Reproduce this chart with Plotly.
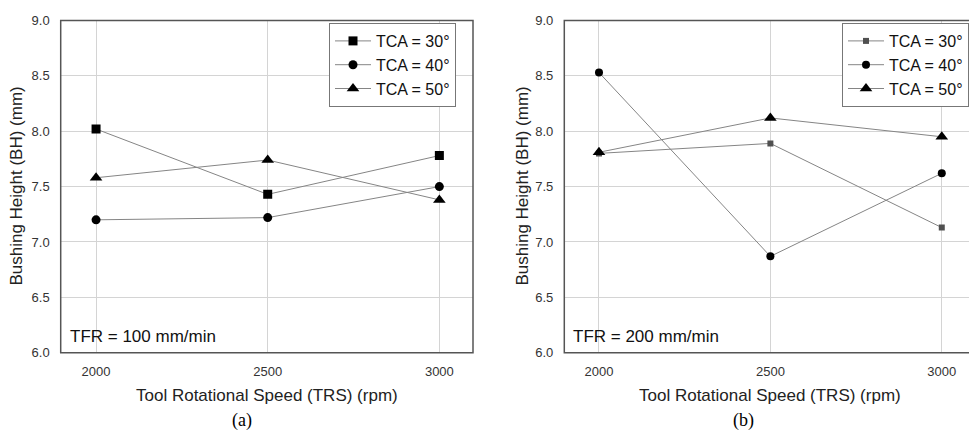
import plotly.graph_objects as go

trs = [2000, 2500, 3000]
labels = ["TCA = 30°", "TCA = 40°", "TCA = 50°"]

# Panel (a): TFR = 100 mm/min
a_tca30 = [8.02, 7.43, 7.78]
a_tca40 = [7.20, 7.22, 7.50]
a_tca50 = [7.58, 7.74, 7.38]

# Panel (b): TFR = 200 mm/min
b_tca30 = [7.80, 7.89, 7.13]
b_tca40 = [8.53, 6.87, 7.62]
b_tca50 = [7.81, 8.12, 7.95]

yticks = [6.0, 6.5, 7.0, 7.5, 8.0, 8.5, 9.0]

W, H = 969, 438
FONT = "Liberation Sans, Arial, sans-serif"
LINE = "#858585"

fig = go.Figure()

def add_series(xa, ya, ys, name, symbol, size, color, legend):
    fig.add_trace(go.Scatter(
        x=trs, y=ys, name=name, mode="lines+markers",
        xaxis=xa, yaxis=ya, legend=legend,
        line=dict(color=LINE, width=1),
        marker=dict(symbol=symbol, size=size, color=color),
    ))

add_series("x", "y", a_tca30, labels[0], "square", 9, "black", "legend")
add_series("x", "y", a_tca40, labels[1], "circle", 9, "black", "legend")
add_series("x", "y", a_tca50, labels[2], "triangle-up", 11, "black", "legend")

add_series("x2", "y2", b_tca30, labels[0], "square", 6, "#505050", "legend2")
add_series("x2", "y2", b_tca40, labels[1], "circle", 8, "black", "legend2")
add_series("x2", "y2", b_tca50, labels[2], "triangle-up", 11, "black", "legend2")

# pixel geometry
ax_l, ax_r = 60.7, 473.0
bx_l, bx_r = 564.3, 969.0
y_top, y_bot = 20.5, 352.7

def px(v):
    return v / W

def py(v):
    return 1 - v / H

common_x = dict(
    tickvals=trs, ticktext=[str(t) for t in trs],
    showgrid=True, gridcolor="#d4d4d4", gridwidth=1.3,
    zeroline=False, showline=False, ticks="", automargin=False,
    tickfont=dict(family=FONT, size=13, color="#333333"),
    ticklabelstandoff=9,
)
common_y = dict(
    range=[6.0, 9.0], tickvals=yticks, tickformat=".1f",
    showgrid=True, gridcolor="#d4d4d4", gridwidth=1.3,
    zeroline=False, showline=False, ticks="", automargin=False,
    tickfont=dict(family=FONT, size=13, color="#333333"),
    ticklabelstandoff=10,
)

legend_common = dict(
    yanchor="top", bgcolor="white", bordercolor="#777777", borderwidth=1,
    font=dict(family=FONT, size=16, color="#111111"),
    tracegroupgap=0, itemwidth=36,
)

fig.update_layout(
    width=W, height=H,
    margin=dict(l=0, r=0, t=0, b=0, autoexpand=False),
    paper_bgcolor="white", plot_bgcolor="white",
    font=dict(family=FONT, color="#222222"),
    xaxis=dict(domain=[px(ax_l), px(ax_r)], range=[1897, 3098], anchor="y", **common_x),
    yaxis=dict(domain=[py(y_bot), py(y_top)], anchor="x", **common_y),
    xaxis2=dict(domain=[px(bx_l), 1.0], range=[1898.8, 3079.4], anchor="y2", **common_x),
    yaxis2=dict(domain=[py(y_bot), py(y_top)], anchor="x2", **common_y),
    legend=dict(x=px(456), xanchor="right", y=py(23), **legend_common),
    legend2=dict(x=px(842), xanchor="left", y=py(23), **legend_common),
)

# plot frames
fig.add_shape(type="rect", xref="x domain", yref="y domain", x0=0, x1=1, y0=0, y1=1,
              line=dict(color="#555555", width=1.5), layer="above")
fig.add_shape(type="rect", xref="x2 domain", yref="y2 domain", x0=0, x1=1.02, y0=0, y1=1,
              line=dict(color="#555555", width=1.5), layer="above")

# annotations
fig.add_annotation(text="TFR = 100 mm/min", xref="x domain", yref="y domain",
                   x=0.018, y=0.05, xanchor="left", yanchor="middle", showarrow=False,
                   font=dict(family=FONT, size=17, color="#111111"))
fig.add_annotation(text="TFR = 200 mm/min", xref="x2 domain", yref="y2 domain",
                   x=0.016, y=0.05, xanchor="left", yanchor="middle", showarrow=False,
                   font=dict(family=FONT, size=17, color="#111111"))

for xc in [(ax_l + ax_r) / 2, (bx_l + 941.7 + 34.3) / 2]:
    fig.add_annotation(text="Tool Rotational Speed (TRS) (rpm)", xref="paper", yref="paper",
                       x=px(xc), y=py(395.7), xanchor="center", yanchor="middle", showarrow=False,
                       font=dict(family=FONT, size=17, color="#222222"))

for xc in [17, 523]:
    fig.add_annotation(text="Bushing Height (BH) (mm)", xref="paper", yref="paper",
                       x=px(xc), y=py((y_top + y_bot) / 2), xanchor="center", yanchor="middle",
                       textangle=-90, showarrow=False,
                       font=dict(family=FONT, size=17, color="#222222"))

for txt, xc in [("(a)", 242), ("(b)", 743)]:
    fig.add_annotation(text=txt, xref="paper", yref="paper",
                       x=px(xc), y=py(420), xanchor="center", yanchor="middle", showarrow=False,
                       font=dict(family="Liberation Serif, Times New Roman, serif", size=18, color="black"))

fig.write_html("out.html")
